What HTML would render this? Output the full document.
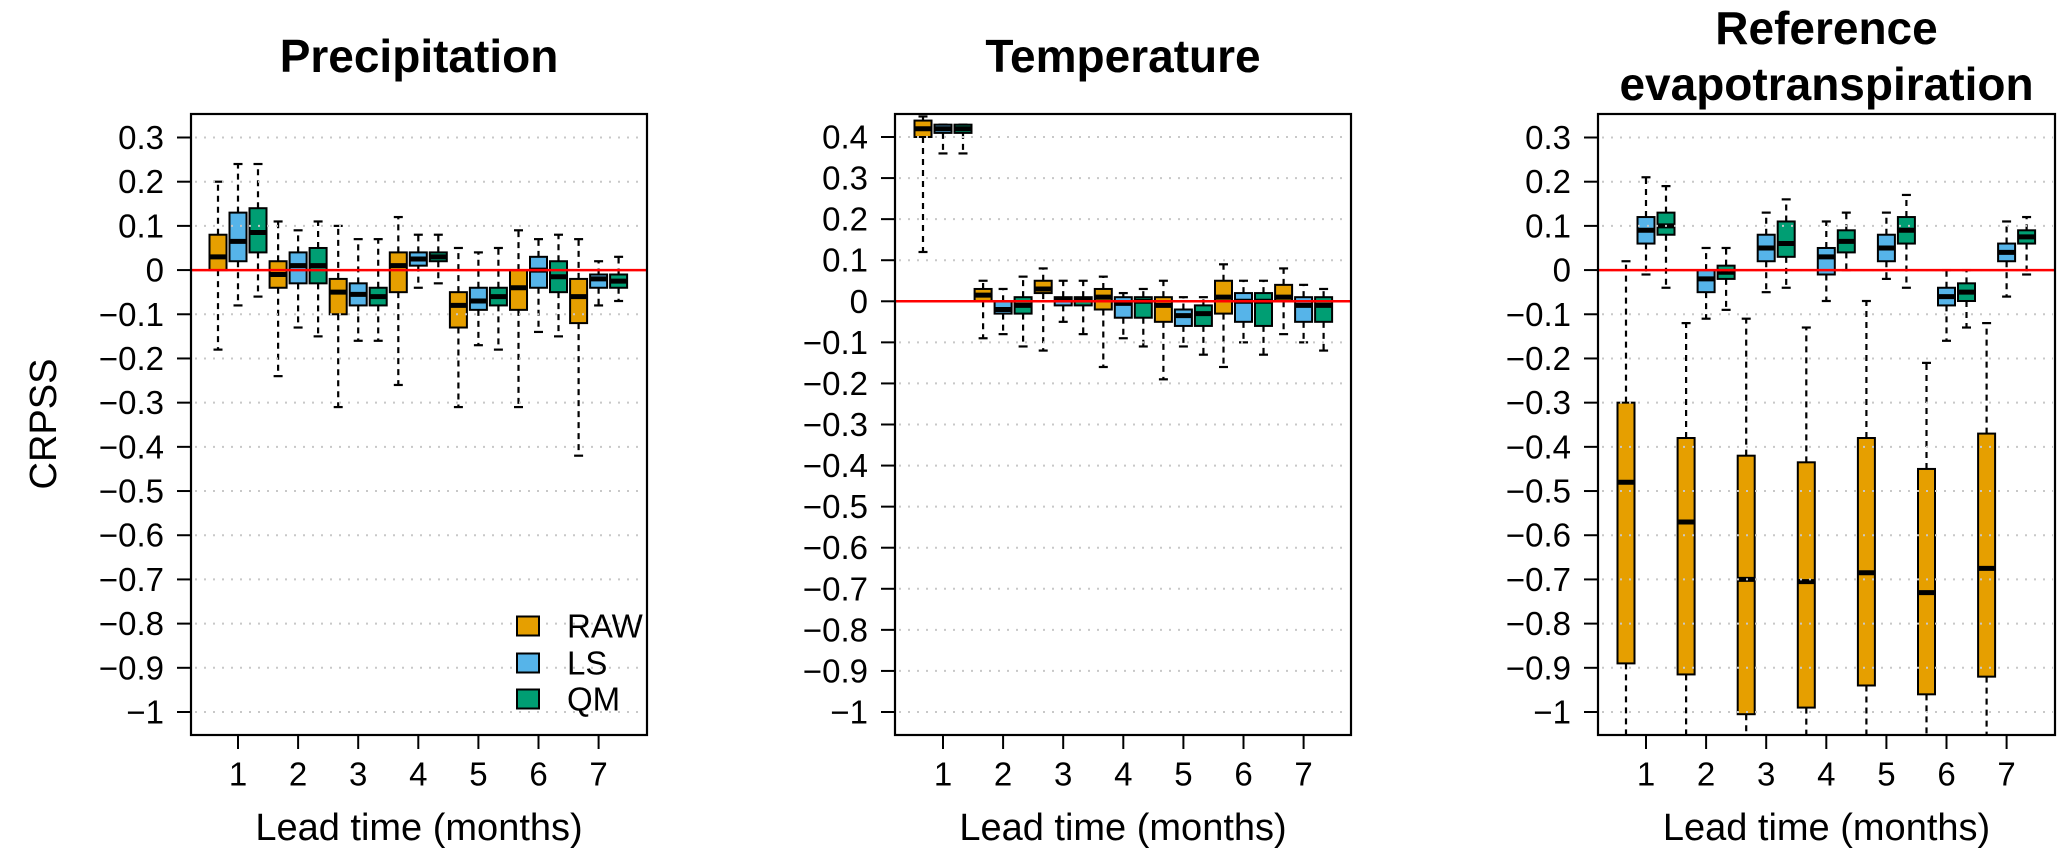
<!DOCTYPE html>
<html><head><meta charset="utf-8"><style>
html,body{margin:0;padding:0;background:#fff;}
svg{display:block;font-family:"Liberation Sans",sans-serif;}
</style></head><body>
<svg id="chart" width="2067" height="859" viewBox="0 0 2067 859" xmlns="http://www.w3.org/2000/svg">
<defs>
<clipPath id="clip1"><rect x="191" y="114" width="456" height="621"/></clipPath>
<clipPath id="clip2"><rect x="895" y="114" width="456" height="621"/></clipPath>
<clipPath id="clip3"><rect x="1598" y="114" width="457" height="621"/></clipPath>
</defs>
<text x="0" y="0" transform="translate(46,424) rotate(-90)" font-size="38" text-anchor="middle" dominant-baseline="middle">CRPSS</text>
</svg>
<script>
// ---- data (group order: lead 1..7; each entry [low, q1, median, q3, high]) ----
const leadTimes = [1,2,3,4,5,6,7];
const seriesNames = ["RAW","LS","QM"];
const precipRAW = [[-0.18,0.0,0.03,0.08,0.20],[-0.24,-0.04,-0.01,0.02,0.11],[-0.31,-0.10,-0.05,-0.02,0.10],[-0.26,-0.05,0.01,0.04,0.12],[-0.31,-0.13,-0.08,-0.05,0.05],[-0.31,-0.09,-0.04,0.0,0.09],[-0.42,-0.12,-0.06,-0.02,0.07]];
const precipLS  = [[-0.08,0.02,0.065,0.13,0.24],[-0.13,-0.03,0.01,0.04,0.09],[-0.16,-0.08,-0.055,-0.03,0.07],[-0.04,0.01,0.025,0.04,0.08],[-0.17,-0.09,-0.07,-0.04,0.04],[-0.14,-0.04,0.0,0.03,0.07],[-0.08,-0.04,-0.02,-0.01,0.02]];
const precipQM  = [[-0.06,0.04,0.085,0.14,0.24],[-0.15,-0.03,0.01,0.05,0.11],[-0.16,-0.08,-0.06,-0.04,0.07],[-0.03,0.02,0.03,0.04,0.08],[-0.18,-0.08,-0.06,-0.04,0.05],[-0.15,-0.05,-0.015,0.02,0.08],[-0.07,-0.04,-0.025,-0.01,0.03]];
const tempRAW = [[0.12,0.40,0.42,0.44,0.45],[-0.09,0.0,0.015,0.03,0.05],[-0.12,0.02,0.03,0.05,0.08],[-0.16,-0.02,0.01,0.03,0.06],[-0.19,-0.05,-0.01,0.01,0.05],[-0.16,-0.03,0.01,0.05,0.09],[-0.08,0.0,0.01,0.04,0.08]];
const tempLS  = [[0.36,0.41,0.42,0.43,0.43],[-0.08,-0.03,-0.02,0.0,0.03],[-0.05,-0.01,0.005,0.01,0.05],[-0.09,-0.04,-0.005,0.01,0.02],[-0.11,-0.06,-0.035,-0.02,0.01],[-0.10,-0.05,0.0,0.02,0.05],[-0.10,-0.05,-0.01,0.01,0.04]];
const tempQM  = [[0.36,0.41,0.42,0.43,0.43],[-0.11,-0.03,-0.01,0.01,0.06],[-0.08,-0.01,0.005,0.01,0.05],[-0.11,-0.04,0.0,0.01,0.03],[-0.13,-0.06,-0.03,-0.01,0.01],[-0.13,-0.06,0.0,0.02,0.05],[-0.12,-0.05,-0.01,0.01,0.03]];
const etoRAW = [[-1.1,-0.89,-0.48,-0.30,0.02],[-1.1,-0.915,-0.57,-0.38,-0.12],[-1.1,-1.005,-0.70,-0.42,-0.11],[-1.1,-0.99,-0.705,-0.435,-0.13],[-1.1,-0.94,-0.685,-0.38,-0.07],[-1.1,-0.96,-0.73,-0.45,-0.21],[-1.1,-0.92,-0.675,-0.37,-0.12]];
const etoLS  = [[-0.01,0.06,0.09,0.12,0.21],[-0.11,-0.05,-0.02,0.0,0.05],[-0.05,0.02,0.05,0.08,0.13],[-0.07,-0.01,0.03,0.05,0.11],[-0.02,0.02,0.05,0.08,0.13],[-0.16,-0.08,-0.06,-0.04,0.0],[-0.06,0.02,0.04,0.06,0.11]];
const etoQM  = [[-0.04,0.08,0.10,0.13,0.19],[-0.09,-0.02,-0.005,0.01,0.05],[-0.04,0.03,0.06,0.11,0.16],[0.0,0.04,0.065,0.09,0.13],[-0.04,0.06,0.09,0.12,0.17],[-0.13,-0.07,-0.05,-0.03,0.0],[-0.01,0.06,0.075,0.09,0.12]];
const ticks03 = [0.3,0.2,0.1,0,-0.1,-0.2,-0.3,-0.4,-0.5,-0.6,-0.7,-0.8,-0.9,-1];
const ticks04 = [0.4,0.3,0.2,0.1,0,-0.1,-0.2,-0.3,-0.4,-0.5,-0.6,-0.7,-0.8,-0.9,-1];
const colors = ["#E69F00","#56B4E9","#009E73"];

const NS = "http://www.w3.org/2000/svg";
const svg = document.getElementById("chart");
function mk(tag, attrs, parent){
  const e = document.createElementNS(NS, tag);
  for (const k in attrs) e.setAttribute(k, attrs[k]);
  (parent||svg).appendChild(e);
  return e;
}
function fmt(v){ if (v===0) return "0"; return (v<0?"\u2212":"")+String(Math.abs(v)); }

const panels = [
  {key:"precipitation", title:["Precipitation"], left:191, right:647, yTop:0.3, yTopPx:137.5, yBotPx:712, ticks:ticks03, firstTick:238, clip:"clip1", data:[precipRAW,precipLS,precipQM], legend:true},
  {key:"temperature", title:["Temperature"], left:895, right:1351, yTop:0.4, yTopPx:137, yBotPx:712, ticks:ticks04, firstTick:943, clip:"clip2", data:[tempRAW,tempLS,tempQM], legend:false},
  {key:"evapotranspiration", title:["Reference","evapotranspiration"], left:1598, right:2055, yTop:0.3, yTopPx:137.5, yBotPx:712, ticks:ticks03, firstTick:1646, clip:"clip3", data:[etoRAW,etoLS,etoQM], legend:false}
];
const plotTop = 114, plotBottom = 735, step = 60.1, off = 20, bw = 17;

panels.forEach(p => {
  const y = v => p.yTopPx + (p.yTop - v) * (p.yBotPx - p.yTopPx) / (p.yTop + 1);
  const x = i => p.firstTick + i * step;
  const g = mk("g", {});
  
  
  const cx = (p.left + p.right) / 2;
  p.title.forEach((t, i) => {
    const ty = p.title.length === 1 ? 60 : (i === 0 ? 32 : 88);
    const tt = mk("text", {x:cx, y:ty, "font-size":46, "font-weight":"bold", "text-anchor":"middle", "dominant-baseline":"middle"}, g);
    tt.textContent = t;
    
    
  });
  p.ticks.forEach(v => {
    mk("line", {x1:p.left-14, x2:p.left, y1:y(v), y2:y(v), stroke:"#000", "stroke-width":2}, g);
    const t = mk("text", {x:p.left-27, y:y(v), "font-size":33, "text-anchor":"end", "dominant-baseline":"central"}, g);
    t.textContent = fmt(v);
    
    
  });
  leadTimes.forEach((lt, i) => {
    mk("line", {x1:x(i), x2:x(i), y1:plotBottom, y2:plotBottom+14, stroke:"#000", "stroke-width":2}, g);
    const t = mk("text", {x:x(i), y:774, "font-size":33, "text-anchor":"middle", "dominant-baseline":"central"}, g);
    t.textContent = lt;
    
    
  });
  const xl = mk("text", {x:cx, y:828, "font-size":38, "text-anchor":"middle", "dominant-baseline":"central"}, g);
  xl.textContent = "Lead time (months)";
  
  
  const bg = mk("g", {"clip-path":"url(#"+p.clip+")"}, g);
  p.data.forEach((series, s) => {
    series.forEach((d, i) => {
      const bx = x(i) + (s-1)*off;
      const [lo,q1,md,q3,hi] = d;
      mk("line", {x1:bx, x2:bx, y1:y(q3), y2:y(hi), stroke:"#000", "stroke-width":2.2, "stroke-dasharray":"6,5"}, bg);
      mk("line", {x1:bx, x2:bx, y1:y(q1), y2:y(lo), stroke:"#000", "stroke-width":2.2, "stroke-dasharray":"6,5"}, bg);
      mk("line", {x1:bx-4.5, x2:bx+4.5, y1:y(hi), y2:y(hi), stroke:"#000", "stroke-width":2.2}, bg);
      mk("line", {x1:bx-4.5, x2:bx+4.5, y1:y(lo), y2:y(lo), stroke:"#000", "stroke-width":2.2}, bg);
      const r = mk("rect", {x:bx-bw/2, y:y(q3), width:bw, height:Math.max(1,y(q1)-y(q3)), fill:colors[s], stroke:"#000", "stroke-width":2}, bg);
      
      
      mk("line", {x1:bx-bw/2, x2:bx+bw/2, y1:y(md), y2:y(md), stroke:"#000", "stroke-width":5}, bg);
    });
  });
  p.ticks.forEach(v => {
    mk("line", {x1:p.left+4, x2:p.right-2, y1:y(v), y2:y(v), stroke:"#c8c8c8", "stroke-width":2, "stroke-dasharray":"2,7"}, g);
  });
  const zl = mk("line", {x1:p.left, x2:p.right, y1:y(0), y2:y(0), stroke:"#FF0000", "stroke-width":2.5}, g);
  
  
  const fr = mk("rect", {x:p.left, y:plotTop, width:p.right-p.left, height:plotBottom-plotTop, fill:"none", stroke:"#000", "stroke-width":2.2}, g);
  
  
  if (p.legend) {
    const lg = mk("g", {}, g);
    
    
    const ly = [626, 663, 699];
    seriesNames.forEach((n, s) => {
      mk("rect", {x:517, y:ly[s]-9.5, width:22, height:19, fill:colors[s], stroke:"#000", "stroke-width":2}, lg);
      const t = mk("text", {x:567, y:ly[s], "font-size":33, "dominant-baseline":"central"}, lg);
      t.textContent = n;
      
      
    });
  }
});
</script>
</body></html>
